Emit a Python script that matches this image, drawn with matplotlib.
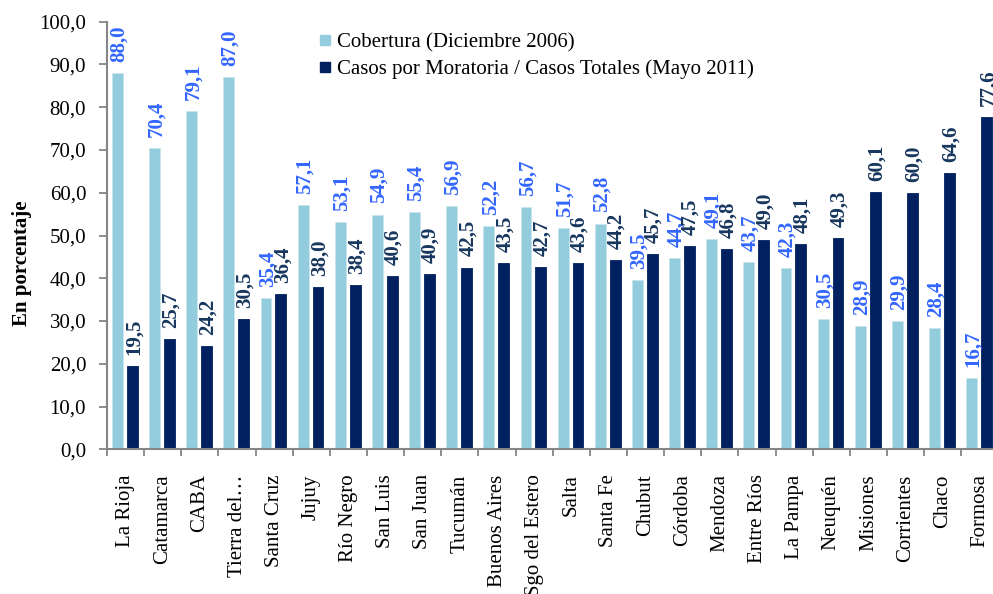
import matplotlib
matplotlib.use("Agg")
import matplotlib.pyplot as plt
import numpy as np
from matplotlib.lines import Line2D

provincias = ["La Rioja", "Catamarca", "CABA", "Tierra del…", "Santa Cruz", "Jujuy",
              "Río Negro", "San Luis", "San Juan", "Tucumán", "Buenos Aires",
              "Sgo del Estero", "Salta", "Santa Fe", "Chubut", "Córdoba", "Mendoza",
              "Entre Ríos", "La Pampa", "Neuquén", "Misiones", "Corrientes", "Chaco", "Formosa"]
cobertura = [88.0, 70.4, 79.1, 87.0, 35.4, 57.1, 53.1, 54.9, 55.4, 56.9, 52.2, 56.7,
             51.7, 52.8, 39.5, 44.7, 49.1, 43.7, 42.3, 30.5, 28.9, 29.9, 28.4, 16.7]
moratoria = [19.5, 25.7, 24.2, 30.5, 36.4, 38.0, 38.4, 40.6, 40.9, 42.5, 43.5, 42.7,
             43.6, 44.2, 45.7, 47.5, 46.8, 49.0, 48.1, 49.3, 60.1, 60.0, 64.6, 77.6]
serie_nombres = ["Cobertura (Diciembre 2006)",
                 "Casos por Moratoria / Casos Totales (Mayo 2011)"]
yticks = [0, 10, 20, 30, 40, 50, 60, 70, 80, 90, 100]

light = "#93CDDD"
dark = "#002060"
light_lbl = "#3366FF"
dark_lbl = "#17375E"
axis_col = "#868686"

plt.rcParams['font.family'] = ['Liberation Serif', 'DejaVu Serif']

fig = plt.figure(figsize=(9.93, 5.94), dpi=100)
ax = fig.add_axes([107/993, 1 - 449.3/594, (998.5 - 107)/993, (449.3 - 21.7)/594])

x = np.arange(len(provincias))
w = 0.29
b1 = ax.bar(x - 0.22, cobertura, w, color=light, edgecolor="#C8E6EE", linewidth=0.6)
b2 = ax.bar(x + 0.18, moratoria, w, color=dark, edgecolor=dark, linewidth=0.6)

def fmt(v):
    return f"{v:.1f}".replace(".", ",")

for xi, v in zip(x - 0.22, cobertura):
    ax.annotate(fmt(v), (xi, v), xytext=(1, 8), textcoords="offset points",
                rotation=90, ha="center", va="bottom", fontsize=15,
                fontweight="bold", color=light_lbl, annotation_clip=False)
for xi, v in zip(x + 0.18, moratoria):
    ax.annotate(fmt(v), (xi, v), xytext=(1, 8), textcoords="offset points",
                rotation=90, ha="center", va="bottom", fontsize=15,
                fontweight="bold", color=dark_lbl, annotation_clip=False)

ax.set_xlim(-0.5, len(provincias) - 0.5)
ax.set_ylim(0, 100)
ax.set_yticks(yticks)
ax.set_yticklabels([fmt(v) for v in yticks], fontsize=15)
ax.set_xticks(x)
ax.set_xticklabels(provincias, rotation=90, fontsize=15, va="top")
ax.set_xticks(np.arange(len(provincias) + 1) - 0.5, minor=True)
ax.tick_params(axis="x", which="major", length=0, pad=18)
ax.tick_params(axis="x", which="minor", length=5, width=1.3, color=axis_col)
ax.tick_params(axis="y", length=6, width=1.3, color=axis_col, pad=9)

for s in ["top", "right"]:
    ax.spines[s].set_visible(False)
for s in ["left", "bottom"]:
    ax.spines[s].set_color(axis_col)
    ax.spines[s].set_linewidth(1.5)

fig.text(22/993, 1 - 263/594, "En porcentaje", rotation=90, ha="center", va="center",
         fontsize=15, fontweight="bold")

handles = [Line2D([], [], marker="s", linestyle="", markersize=7, color=light),
           Line2D([], [], marker="s", linestyle="", markersize=7, color=dark)]
ax.legend(handles, serie_nombres, loc="upper left",
          bbox_to_anchor=(304/993, 1 - 18/594), bbox_transform=fig.transFigure,
          frameon=False, fontsize=15, handlelength=0.6, handletextpad=0.3,
          labelspacing=0.35, borderpad=0.2)

fig.savefig("out.png", dpi=100)
